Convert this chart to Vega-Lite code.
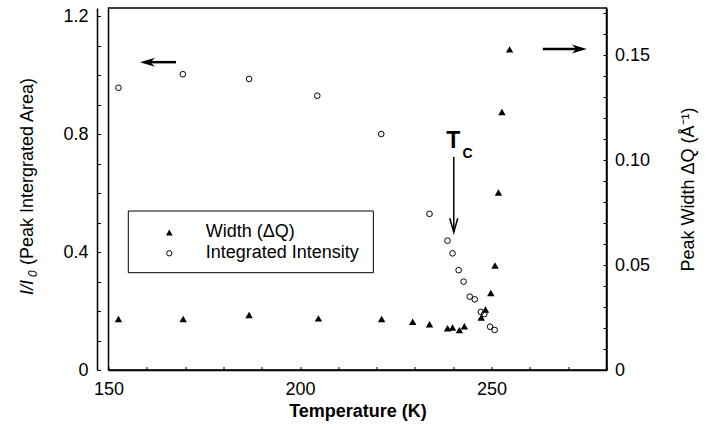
{
  "$schema": "https://vega.github.io/schema/vega-lite/v6.json",
  "width": 498,
  "height": 362,
  "autosize": {"type": "none"},
  "padding": {"left": 108.5, "top": 8, "right": 105.5, "bottom": 69},
  "datasets": {
    "intensity": [
      {"T": 152.6, "v": 0.958},
      {"T": 169.4, "v": 1.004},
      {"T": 186.7, "v": 0.988},
      {"T": 204.5, "v": 0.931},
      {"T": 221.2, "v": 0.801},
      {"T": 233.8, "v": 0.530},
      {"T": 238.5, "v": 0.439},
      {"T": 239.8, "v": 0.396},
      {"T": 241.4, "v": 0.339},
      {"T": 242.7, "v": 0.300},
      {"T": 244.3, "v": 0.249},
      {"T": 245.6, "v": 0.240},
      {"T": 247.2, "v": 0.197},
      {"T": 248.1, "v": 0.190},
      {"T": 249.6, "v": 0.147},
      {"T": 250.8, "v": 0.136}
    ],
    "width": [
      {"T": 152.6, "W": 0.0243},
      {"T": 169.5, "W": 0.0243},
      {"T": 186.7, "W": 0.0262},
      {"T": 204.8, "W": 0.0246},
      {"T": 221.3, "W": 0.0243},
      {"T": 229.4, "W": 0.0230},
      {"T": 233.8, "W": 0.0218},
      {"T": 238.5, "W": 0.0199},
      {"T": 239.8, "W": 0.0202},
      {"T": 241.6, "W": 0.0190},
      {"T": 242.9, "W": 0.0208},
      {"T": 247.3, "W": 0.0250},
      {"T": 248.4, "W": 0.0288},
      {"T": 249.8, "W": 0.0367},
      {"T": 250.9, "W": 0.0498},
      {"T": 251.8, "W": 0.0845},
      {"T": 252.7, "W": 0.1229},
      {"T": 254.7, "W": 0.1527}
    ],
    "hArrows": [
      {"T": 161.0, "T2": 167.62, "v": 1.045},
      {"T": 263.37, "T2": 272.6, "v": 1.0896}
    ],
    "headLeft": [{"T": 160.18, "v": 1.045}],
    "headRight": [{"T": 272.9, "v": 1.0896}],
    "tcLine": [{"T": 240.13, "v": 0.723, "v2": 0.4687}],
    "tcHead": [{"T": 240.13, "v": 0.4912}],
    "tcT": [{"T": 240.03, "v": 0.7526, "txt": "T"}],
    "tcC": [{"T": 242.38, "v": 0.7186, "txt": "C"}],
    "legendBox": [{"T": 155.17, "T2": 219.14, "v": 0.3303, "v2": 0.5397}],
    "legendTri": [{"T": 165.87, "v": 0.4667}],
    "legendCirc": [{"T": 165.87, "v": 0.3961}],
    "legendText": [
      {"T": 175.38, "v": 0.4525, "txt": "Width (ΔQ)"},
      {"T": 175.38, "v": 0.3792, "txt": "Integrated Intensity"}
    ],
    "titleItalic": [{"T": 130.29, "v": 0.2546, "txt": "I/I"}],
    "titleSub": [{"T": 131.33, "v": 0.3157, "txt": "0"}],
    "titleRest": [{"T": 130.29, "v": 0.3564, "txt": "(Peak Intergrated Area)"}]
  },
  "encoding": {
    "x": {
      "field": "T", "type": "quantitative",
      "scale": {"domain": [150, 280], "nice": false, "zero": false},
      "axis": {
        "values": [150, 160, 170, 180, 190, 200, 210, 220, 230, 240, 250, 260, 270, 280],
        "labelExpr": "datum.value % 50 == 0 ? datum.label : ''",
        "tickSize": -3.5, "tickWidth": 1, "labelPadding": 13.5,
        "labelFlush": false, "labelOverlap": false,
        "domainWidth": 1.5,
        "title": "Temperature (K)", "titleFontWeight": "bold", "titleFontSize": 18, "titlePadding": 4
      }
    }
  },
  "layer": [
    {
      "encoding": {
        "y": {
          "field": "v", "type": "quantitative",
          "scale": {"domain": [0, 1.2288], "nice": false},
          "axis": {
            "orient": "left", "offset": 11.5,
            "values": [0, 0.1, 0.2, 0.3, 0.4, 0.5, 0.6, 0.7, 0.8, 0.9, 1.0, 1.1, 1.2],
            "labelExpr": "round(datum.value * 10) % 4 == 0 ? (datum.value == 0 ? '0' : format(datum.value, '.1f')) : ''",
            "tickSize": -3.5, "tickWidth": 1, "labelPadding": 12.5,
            "labelOverlap": false, "domainWidth": 1.5,
            "title": null
          }
        }
      },
      "layer": [
        {
          "data": {"name": "intensity"},
          "mark": {"type": "point", "shape": "circle", "filled": false, "stroke": "black", "strokeWidth": 1, "size": 32, "opacity": 1}
        },
        {
          "data": {"name": "legendBox"},
          "mark": {"type": "rect", "fill": "white", "stroke": "black", "strokeWidth": 1},
          "encoding": {"x2": {"field": "T2"}, "y2": {"field": "v2"}}
        },
        {
          "data": {"name": "hArrows"},
          "mark": {"type": "rule", "stroke": "black", "strokeWidth": 2.5},
          "encoding": {"x2": {"field": "T2"}}
        },
        {
          "data": {"name": "headLeft"},
          "mark": {"type": "point", "shape": "M-1,0L1,-0.6L0.4,0L1,0.6Z", "filled": true, "fill": "black", "size": 225, "opacity": 1}
        },
        {
          "data": {"name": "headRight"},
          "mark": {"type": "point", "shape": "M1,0L-1,-0.6L-0.4,0L-1,0.6Z", "filled": true, "fill": "black", "size": 225, "opacity": 1}
        },
        {
          "data": {"name": "tcLine"},
          "mark": {"type": "rule", "stroke": "black", "strokeWidth": 1.5},
          "encoding": {"y2": {"field": "v2"}}
        },
        {
          "data": {"name": "tcHead"},
          "mark": {"type": "point", "shape": "M-0.57,-1L0,1L0.57,-1", "filled": false, "stroke": "black", "strokeWidth": 1.5, "size": 196, "opacity": 1}
        },
        {
          "data": {"name": "tcT"},
          "mark": {"type": "text", "font": "Liberation Sans", "fontSize": 23, "fontWeight": "bold", "align": "center", "baseline": "alphabetic", "color": "black"},
          "encoding": {"text": {"field": "txt"}}
        },
        {
          "data": {"name": "tcC"},
          "mark": {"type": "text", "font": "Liberation Sans", "fontSize": 14, "fontWeight": "bold", "align": "left", "baseline": "alphabetic", "color": "black"},
          "encoding": {"text": {"field": "txt"}}
        },
        {
          "data": {"name": "legendTri"},
          "mark": {"type": "point", "shape": "triangle-up", "filled": true, "fill": "black", "size": 45, "opacity": 1}
        },
        {
          "data": {"name": "legendCirc"},
          "mark": {"type": "point", "shape": "circle", "filled": false, "stroke": "black", "strokeWidth": 1, "size": 28, "opacity": 1}
        },
        {
          "data": {"name": "legendText"},
          "mark": {"type": "text", "font": "Liberation Sans", "fontSize": 18, "align": "left", "baseline": "alphabetic", "color": "black"},
          "encoding": {"text": {"field": "txt"}}
        },
        {
          "data": {"name": "titleItalic"},
          "mark": {"type": "text", "font": "Liberation Sans", "fontSize": 18, "fontStyle": "italic", "angle": 270, "align": "left", "baseline": "alphabetic", "color": "black"},
          "encoding": {"text": {"field": "txt"}}
        },
        {
          "data": {"name": "titleSub"},
          "mark": {"type": "text", "font": "Liberation Sans", "fontSize": 12, "fontStyle": "italic", "angle": 270, "align": "left", "baseline": "alphabetic", "color": "black"},
          "encoding": {"text": {"field": "txt"}}
        },
        {
          "data": {"name": "titleRest"},
          "mark": {"type": "text", "font": "Liberation Sans", "fontSize": 18, "angle": 270, "align": "left", "baseline": "alphabetic", "color": "black"},
          "encoding": {"text": {"field": "txt"}}
        }
      ]
    },
    {
      "data": {"name": "width"},
      "mark": {"type": "point", "shape": "triangle-up", "filled": true, "fill": "black", "size": 55, "opacity": 1},
      "encoding": {
        "y": {
          "field": "W", "type": "quantitative",
          "scale": {"domain": [0, 0.1724], "nice": false},
          "axis": {
            "orient": "right",
            "values": [0, 0.01, 0.02, 0.03, 0.04, 0.05, 0.06, 0.07, 0.08, 0.09, 0.1, 0.11, 0.12, 0.13, 0.14, 0.15, 0.16, 0.17],
            "labelExpr": "round(datum.value * 100) % 5 == 0 ? (datum.value == 0 ? '0' : format(datum.value, '.2f')) : ''",
            "tickSize": -3.5, "tickWidth": 1, "labelPadding": 11.5,
            "labelOverlap": false, "domainWidth": 1.5,
            "title": "Peak Width ΔQ (Å⁻¹)", "titleAngle": 270, "titleBaseline": "top",
            "titleFontSize": 18, "titleFontWeight": "normal", "titlePadding": 30
          }
        }
      }
    }
  ],
  "resolve": {"scale": {"y": "independent"}, "axis": {"y": "independent"}},
  "config": {
    "view": {"stroke": "black", "strokeWidth": 1.5},
    "font": "Liberation Sans",
    "axis": {
      "labelFont": "Liberation Sans", "labelFontSize": 18, "labelColor": "black",
      "titleFont": "Liberation Sans", "titleColor": "black",
      "domainColor": "black", "tickColor": "black", "grid": false
    }
  }
}
